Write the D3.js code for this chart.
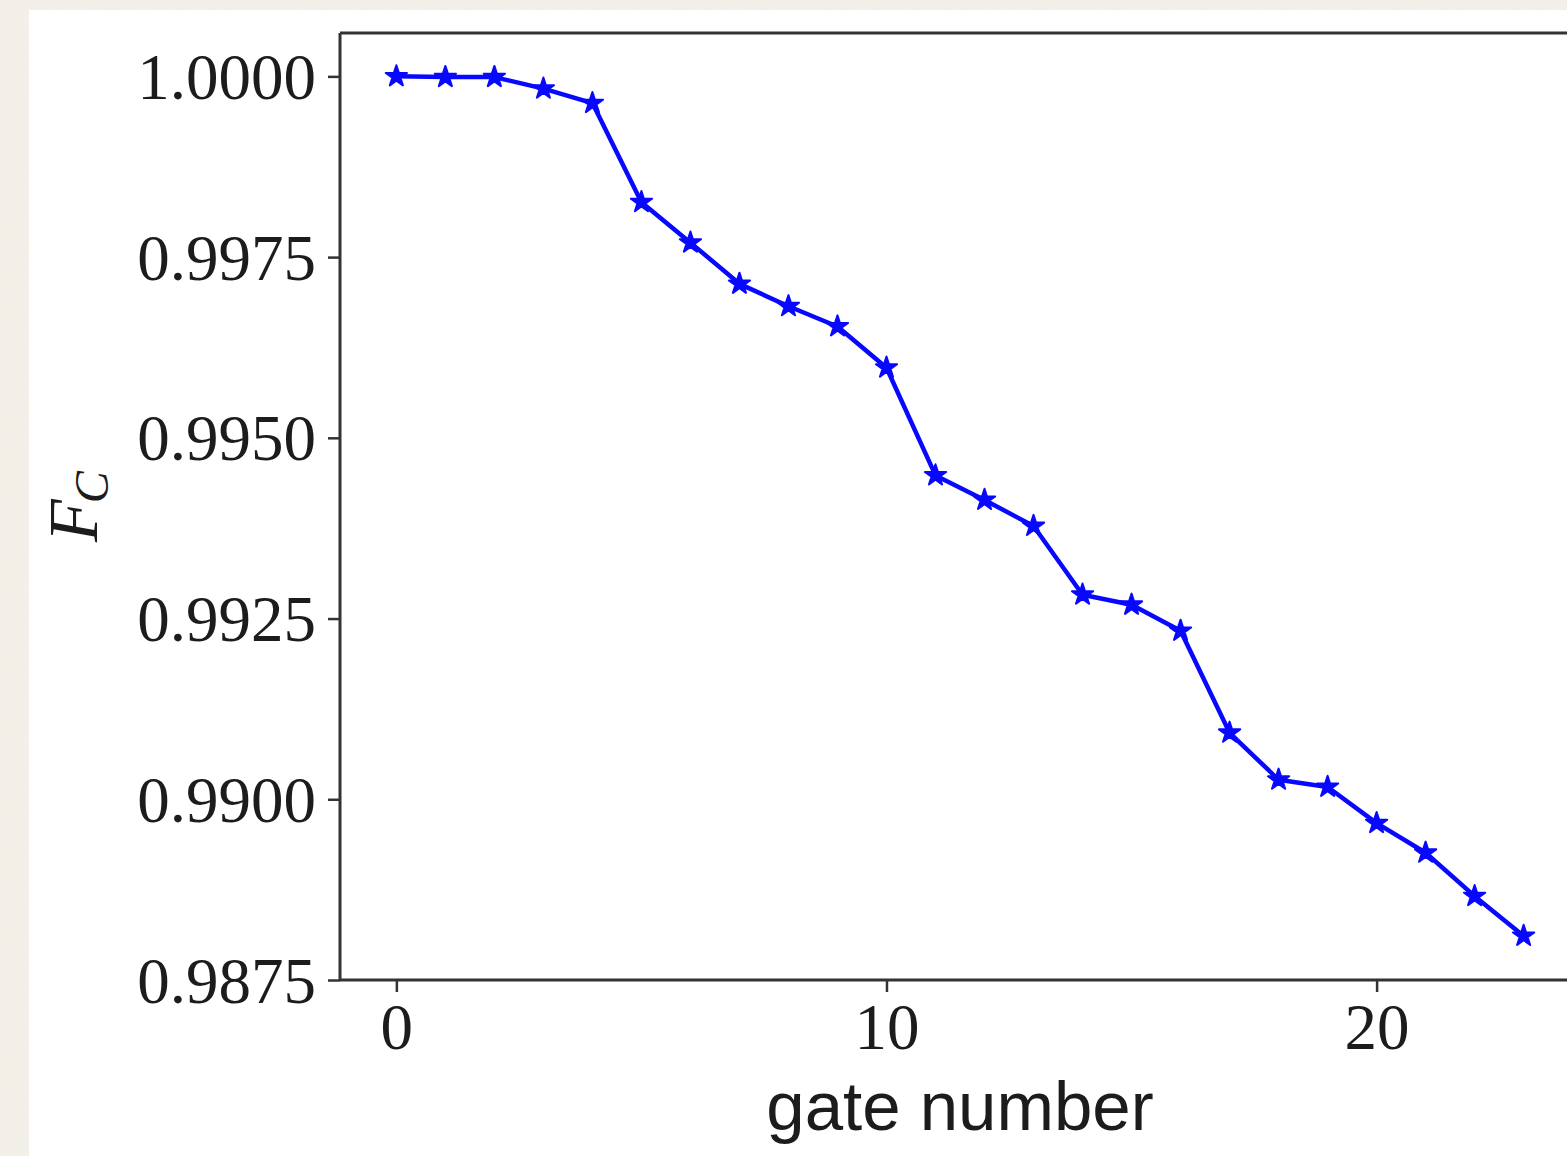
<!DOCTYPE html>
<html>
<head>
<meta charset="utf-8">
<script src="https://cdn.jsdelivr.net/npm/d3@7"></script>
<style>
  html, body { margin: 0; padding: 0; background: #f4f1ea; }
  svg { display: block; }
</style>
</head>
<body>
<svg id="chart" width="1567" height="1156"></svg>
<script>
// Classical fidelity after each gate
const gateNumbers = [0, 1, 2, 3, 4, 5, 6, 7, 8, 9, 10, 11, 12, 13, 14, 15, 16, 17, 18, 19, 20, 21, 22, 23];
const fidelity = [1.00000, 0.99999, 0.99999, 0.99983, 0.99963, 0.99826, 0.99770, 0.99713,
                  0.99682, 0.99654, 0.99597, 0.99448, 0.99414, 0.99378, 0.99283, 0.99269,
                  0.99233, 0.99092, 0.99027, 0.99017, 0.98967, 0.98926, 0.98866, 0.98811];
const xTicks = [0, 10, 20];
const yTicks = [0.9875, 0.9900, 0.9925, 0.9950, 0.9975, 1.0000];

const svg = d3.select("#chart");
const W = 1567, H = 1156;

// paper texture background with white figure panel
const defs = svg.append("defs");
const f = defs.append("filter").attr("id", "grain").attr("x", 0).attr("y", 0).attr("width", "100%").attr("height", "100%");
f.append("feTurbulence").attr("type", "fractalNoise").attr("baseFrequency", 0.9).attr("numOctaves", 2).attr("seed", 3).attr("result", "n");
f.append("feColorMatrix").attr("in", "n").attr("type", "matrix")
  .attr("values", "0 0 0 0 0.88  0 0 0 0 0.85  0 0 0 0 0.78  0 0 0 0.6 0").attr("result", "c");
f.append("feComposite").attr("in", "c").attr("in2", "SourceGraphic").attr("operator", "over");

svg.append("rect").attr("width", W).attr("height", H).attr("fill", "#f4f1ea").attr("filter", "url(#grain)");
svg.append("rect").attr("x", 29).attr("y", 10).attr("width", W - 29).attr("height", H - 10).attr("fill", "#ffffff");

const plot = { left: 340, top: 33, right: 1580, bottom: 980 };

const x = d3.scaleLinear().domain([-1.15, 24.15]).range([plot.left, plot.right]);
const y = d3.scaleLinear().domain([0.9875, 1.0006]).range([plot.bottom, plot.top]);

const axisColor = "#333";
const textColor = "#1c1c1c";
const tickFont = "'Liberation Serif', 'DejaVu Serif', serif";

// x axis
const xAxis = svg.append("g").attr("transform", `translate(0,${plot.bottom})`)
  .call(d3.axisBottom(x).tickValues(xTicks).tickFormat(d3.format("d")).tickSize(12).tickPadding(10));
// y axis
const yAxis = svg.append("g").attr("transform", `translate(${plot.left},0)`)
  .call(d3.axisLeft(y).tickValues(yTicks).tickFormat(d3.format(".4f")).tickSize(12).tickPadding(12));

[xAxis, yAxis].forEach(g => {
  g.select(".domain").remove();
  g.selectAll(".tick line").attr("stroke", axisColor).attr("stroke-width", 2.5);
  g.selectAll(".tick text").attr("fill", textColor).attr("font-family", tickFont).attr("font-size", 65);
});
yAxis.selectAll(".tick text").attr("dy", "0.34em");
xAxis.selectAll(".tick text").attr("dy", "0.72em");

// spines
const spines = svg.append("g").attr("stroke", axisColor).attr("stroke-width", 3).attr("fill", "none");
spines.append("line").attr("x1", plot.left).attr("x2", plot.right).attr("y1", plot.bottom).attr("y2", plot.bottom);
spines.append("line").attr("x1", plot.left).attr("x2", plot.right).attr("y1", plot.top).attr("y2", plot.top);
spines.append("line").attr("x1", plot.left).attr("x2", plot.left).attr("y1", plot.top).attr("y2", plot.bottom);
spines.append("line").attr("x1", plot.right).attr("x2", plot.right).attr("y1", plot.top).attr("y2", plot.bottom);

// data line
const pts = gateNumbers.map((g, i) => [g, fidelity[i]]);
svg.append("path")
  .datum(pts)
  .attr("fill", "none")
  .attr("stroke", "#0808ff")
  .attr("stroke-width", 4.5)
  .attr("stroke-linejoin", "round")
  .attr("d", d3.line().x(d => x(d[0])).y(d => y(d[1])));

// star markers
svg.append("g").selectAll("path")
  .data(pts)
  .join("path")
  .attr("transform", d => `translate(${x(d[0])},${y(d[1])})`)
  .attr("d", d3.symbol().type(d3.symbolStar).size(140))
  .attr("fill", "#0808ff")
  .attr("stroke", "#0808ff")
  .attr("stroke-width", 2)
  .attr("stroke-linejoin", "round");

// axis labels
svg.append("text")
  .attr("x", (plot.left + plot.right) / 2)
  .attr("y", 1130)
  .attr("text-anchor", "middle")
  .attr("font-family", "'Liberation Sans', Arial, sans-serif")
  .attr("font-size", 69)
  .attr("fill", textColor)
  .text("gate number");

const yl = svg.append("text")
  .attr("transform", `translate(97,${(plot.top + plot.bottom) / 2}) rotate(-90)`)
  .attr("text-anchor", "middle")
  .attr("font-family", "'Liberation Serif', 'DejaVu Serif', serif")
  .attr("font-style", "italic")
  .attr("font-size", 70)
  .attr("fill", textColor);
yl.append("tspan").text("F");
yl.append("tspan").attr("font-size", 48).attr("dy", 11).attr("dx", -4).text("C");
</script>
</body>
</html>
